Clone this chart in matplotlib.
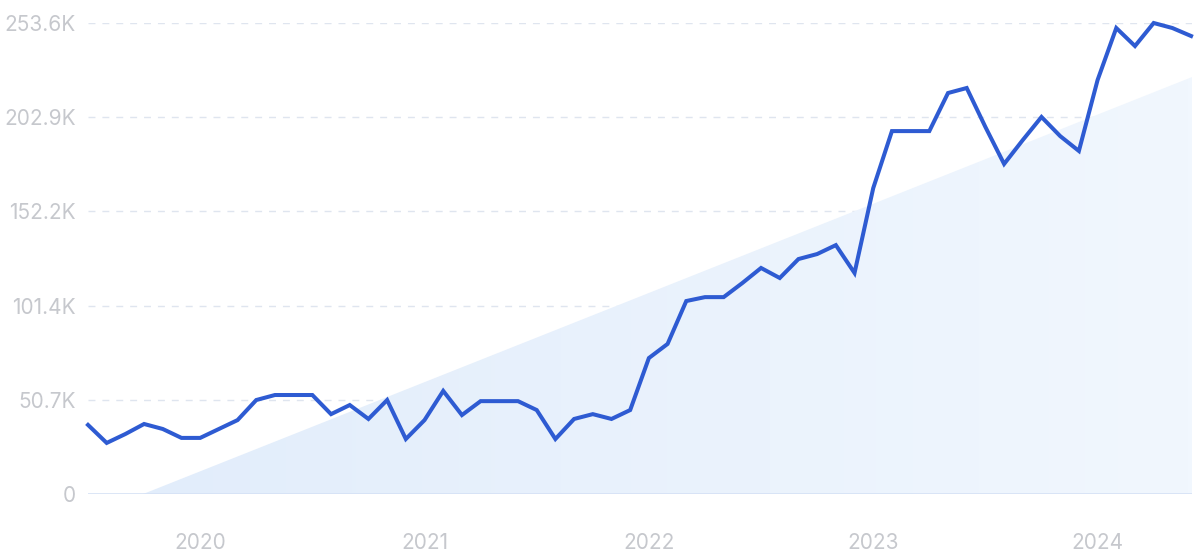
import numpy as np
import matplotlib
matplotlib.use("Agg")
import matplotlib.pyplot as plt
from matplotlib.patches import Polygon
from matplotlib.colors import LinearSegmentedColormap

# monthly values (K), Jul 2019 .. Jun 2024
values = [37.2, 27.5, 32.3, 37.7, 35.0, 30.2, 30.2, 35.0, 39.8, 50.6,
          53.3, 53.3, 53.3, 43.0, 47.9, 40.4, 50.6, 29.6, 39.8, 55.5,
          42.5, 50.0, 50.0, 50.0, 45.2, 29.6, 40.4, 43.0, 40.4, 45.2,
          73.2, 80.8, 103.9, 106.0, 106.0, 113.6, 121.7, 116.3, 126.5, 129.2,
          134.0, 119.0, 164.7, 195.4, 195.4, 195.4, 215.9, 218.6, 197.6, 177.7,
          190.6, 203.0, 192.7, 184.7, 222.9, 250.9, 241.2, 253.6, 250.9, 246.6]
trend_start = (2.95, 0.0)
trend_end = (59.05, 224.5)

yticks = [0, 50.7, 101.4, 152.2, 202.9, 253.6]
ytick_labels = ["0", "50.7K", "101.4K", "152.2K", "202.9K", "253.6K"]
xticks = [6, 18, 30, 42, 54]
xtick_labels = ["2020", "2021", "2022", "2023", "2024"]

plt.rcParams['font.family'] = ['Inter', 'DejaVu Sans']

fig = plt.figure(figsize=(12, 5.58), dpi=100)
ax = fig.add_axes([88/1200, 64/558, 1104/1200, 471/558])
x = np.arange(len(values))

ax.set_xlim(0, 59.05)
ax.set_ylim(0, 253.6)

# trend triangle with a soft horizontal gradient
tri = Polygon([trend_start, trend_end, (trend_end[0], 0)], closed=True,
              facecolor='none', edgecolor='none')
ax.add_patch(tri)
cmap = LinearSegmentedColormap.from_list('tr', ['#e2edfb', '#f1f7fe'])
grad = np.linspace(0, 1, 256).reshape(1, -1)
im = ax.imshow(grad, cmap=cmap, extent=[trend_start[0], trend_end[0], 0, trend_end[1]],
               aspect='auto', origin='lower', zorder=1)
im.set_clip_path(tri)

for yt in yticks[1:]:
    ax.axhline(yt, color='#dfe5ef', lw=1, ls=(0, (5, 5)), zorder=0)
ax.axhline(0, color='#d5e1f5', lw=1.2, zorder=2)

ax.plot(x, values, color='#2e5bd2', lw=2.9, solid_joinstyle='miter',
        zorder=3, clip_on=False)

ax.set_yticks(yticks)
ax.set_yticklabels(ytick_labels)
ax.set_xticks(xticks)
ax.set_xticklabels(xtick_labels)
ax.tick_params(axis='y', length=0, pad=9, labelsize=15, labelcolor='#c6c8cd')
ax.tick_params(axis='x', length=0, pad=28, labelsize=15, labelcolor='#c6c8cd')
for s in ax.spines.values():
    s.set_visible(False)

fig.savefig('out.png', dpi=100)
